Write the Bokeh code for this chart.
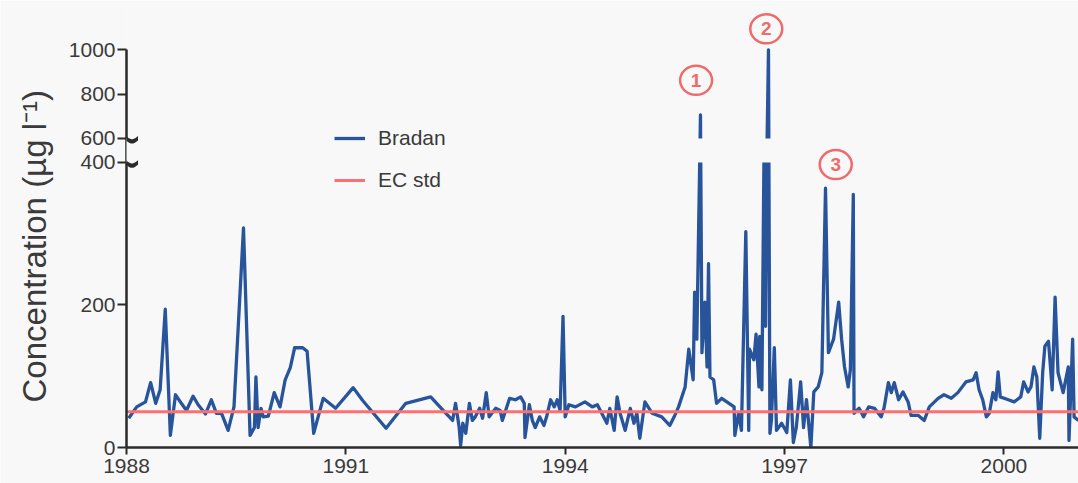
import numpy as np
from bokeh.plotting import figure
from bokeh.models import (ColumnDataSource, Range1d, FixedTicker, CustomJSTransform,
                          CustomJSTickFormatter, Legend, LegendItem, PolyAnnotation, Title)
from bokeh.transform import transform
from bokeh.core.properties import value
from bokeh.embed import file_html
from bokeh.resources import INLINE

# ---- data -------------------------------------------------------------
YEARS = [
    1988.03, 1988.14, 1988.26, 1988.33, 1988.40, 1988.46, 1988.53, 1988.60, 1988.67, 1988.75,
    1988.82, 1988.91, 1988.98, 1989.08, 1989.16, 1989.23, 1989.30, 1989.39, 1989.47, 1989.60,
    1989.69, 1989.75, 1989.77, 1989.80, 1989.84, 1989.87, 1989.94, 1990.02, 1990.10, 1990.17,
    1990.24, 1990.30, 1990.41, 1990.47, 1990.56, 1990.69, 1990.86, 1991.10, 1991.23, 1991.55,
    1991.82, 1992.16, 1992.35, 1992.46, 1992.50, 1992.55, 1992.57, 1992.60, 1992.64, 1992.69,
    1992.73, 1992.77, 1992.83, 1992.87, 1992.92, 1992.96, 1993.05, 1993.11, 1993.14, 1993.24,
    1993.32, 1993.39, 1993.44, 1993.45, 1993.51, 1993.55, 1993.59, 1993.65, 1993.71, 1993.75,
    1993.80, 1993.85, 1993.89, 1993.93, 1993.97, 1994.00, 1994.05, 1994.14, 1994.27, 1994.37,
    1994.44, 1994.48, 1994.57, 1994.61, 1994.67, 1994.71, 1994.75, 1994.82, 1994.89, 1994.94,
    1994.98, 1995.02, 1995.09, 1995.19, 1995.32, 1995.43, 1995.49, 1995.55, 1995.64, 1995.69,
    1995.75, 1995.77, 1995.80, 1995.85, 1995.87, 1995.91, 1995.94, 1995.96, 1995.98, 1996.03,
    1996.07, 1996.14, 1996.24, 1996.31, 1996.32, 1996.37, 1996.41, 1996.47, 1996.51, 1996.52,
    1996.58, 1996.61, 1996.65, 1996.66, 1996.69, 1996.72, 1996.74, 1996.76, 1996.78, 1996.80,
    1996.82, 1996.86, 1996.89, 1996.96, 1997.03, 1997.08, 1997.12, 1997.16, 1997.22, 1997.26,
    1997.30, 1997.36, 1997.40, 1997.46, 1997.51, 1997.56, 1997.60, 1997.67, 1997.74, 1997.78,
    1997.82, 1997.87, 1997.90, 1997.94, 1997.95, 1998.02, 1998.08, 1998.15, 1998.23, 1998.32,
    1998.36, 1998.42, 1998.46, 1998.50, 1998.56, 1998.62, 1998.69, 1998.73, 1998.83, 1998.91,
    1998.98, 1999.10, 1999.18, 1999.28, 1999.37, 1999.48, 1999.58, 1999.62, 1999.66, 1999.71,
    1999.76, 1999.80, 1999.85, 1999.89, 1999.92, 1999.95, 2000.06, 2000.14, 2000.23, 2000.27,
    2000.33, 2000.37, 2000.41, 2000.45, 2000.49, 2000.53, 2000.56, 2000.61, 2000.66, 2000.70,
    2000.74, 2000.81, 2000.88, 2000.89, 2000.94, 2000.96, 2001.02,
]
BRADAN = [
    41, 57, 64, 91, 62, 81, 194, 17, 74, 62,
    52, 72, 60, 47, 67, 48, 48, 24, 57, 308,
    17, 28, 99, 28, 55, 43, 44, 77, 57, 95,
    112, 140, 140, 135, 20, 69, 55, 84, 66, 27,
    62, 71, 50, 38, 62, 28, 3, 34, 20, 62,
    38, 43, 55, 41, 77, 43, 55, 52, 38, 69,
    67, 71, 62, 14, 60, 38, 28, 43, 31, 45,
    67, 57, 67, 52, 184, 43, 60, 57, 64, 57,
    60, 52, 34, 55, 24, 71, 48, 24, 55, 34,
    48, 13, 64, 48, 43, 31, 43, 57, 85, 138,
    95, 218, 152, 705, 133, 204, 113, 258, 99, 95,
    62, 69, 62, 57, 17, 48, 24, 303, 24, 138,
    123, 159, 85, 156, 81, 560, 170, 540, 1000, 20,
    38, 140, 24, 34, 21, 95, 7, 28, 92, 28,
    67, 0, 78, 85, 105, 364, 133, 152, 204, 152,
    113, 85, 109, 355, 48, 55, 43, 57, 55, 43,
    55, 91, 77, 91, 67, 78, 64, 45, 45, 38,
    57, 69, 74, 69, 77, 92, 95, 105, 81, 67,
    43, 48, 77, 67, 106, 71, 67, 64, 71, 92,
    78, 85, 113, 99, 13, 105, 142, 149, 81, 211,
    105, 77, 113, 10, 152, 43, 38,
]
EC_STD = 50
X_START, X_END = 1988.0, 2001.02
X_TICKS = [1988, 1991, 1994, 1997, 2000]
Y_TICKS = [0, 200, 400, 600, 800, 1000]
BREAK_LO, BREAK_HI = 400, 600
MARK_LABELS = ["1", "2", "3"]
MARK_YEARS = [1995.79, 1996.75, 1997.70]
MARK_VALUES = [862, 1095, 397]
Y_TITLE = "Concentration (\u00b5g l\u207b\u00b9)"

# ---- broken value axis ------------------------------------------------
# up to 400 the scale is linear; 400-600 collapses into a thin gap;
# above 600 the scale is compressed.
GAP = 34.0
UPPER_K = 0.31
PX_PER_UNIT = 0.7125


def to_axis(v):
    if v <= BREAK_LO:
        return v
    if v >= BREAK_HI:
        return BREAK_LO + GAP + (v - BREAK_HI) * UPPER_K
    return BREAK_LO + (v - BREAK_LO) * GAP / (BREAK_HI - BREAK_LO)


JS_MAP = """
function m(v) {
  if (v <= lo) return v;
  if (v >= hi) return lo + gap + (v - hi) * k;
  return lo + (v - lo) * gap / (hi - lo);
}
"""
brk = CustomJSTransform(
    args=dict(lo=BREAK_LO, hi=BREAK_HI, gap=GAP, k=UPPER_K),
    func=JS_MAP + "return m(x);",
    v_func=JS_MAP + "const out = new Float64Array(xs.length);"
                    "for (let i = 0; i < xs.length; i++) out[i] = m(xs[i]);"
                    "return out;",
)
tick_fmt = CustomJSTickFormatter(
    args=dict(lo=BREAK_LO, hi=BREAK_HI, gap=GAP, k=UPPER_K),
    code="""
const v = tick <= lo + 1e-6 ? tick : hi + (tick - lo - gap) / k;
return String(Math.round(v));
""",
)

# ---- styling ----------------------------------------------------------
BG = "#f8f8f8"
AXIS = "#2a2a2a"
TEXT = "#3a3a3a"
BLUE = "#27549a"
RED = "#ff6f6f"
MARK = "#ef6a6a"
FONT = "Liberation Sans"

p = figure(width=1078, height=483, x_range=Range1d(X_START, X_END),
           y_range=Range1d(0, 616), output_backend="svg", toolbar_location=None,
           min_border_left=125, min_border_right=0, min_border_top=8,
           min_border_bottom=36, background_fill_color=BG, border_fill_color=BG,
           outline_line_color=None)
p.grid.visible = False

xa = p.xaxis[0]
xa.ticker = FixedTicker(ticks=X_TICKS)
xa.minor_tick_line_color = None
xa.major_tick_out = 7
xa.major_tick_in = 0
xa.axis_line_width = 2.5
xa.axis_line_color = AXIS
xa.major_tick_line_width = 2
xa.major_tick_line_color = AXIS
xa.major_label_standoff = 4
xa.major_label_text_font = FONT
xa.major_label_text_font_size = "21px"
xa.major_label_text_color = TEXT

ya = p.yaxis[0]
ya.ticker = FixedTicker(ticks=[to_axis(v) for v in Y_TICKS])
ya.formatter = tick_fmt
ya.bounds = (0, to_axis(Y_TICKS[-1]))
ya.minor_tick_line_color = None
ya.major_tick_out = 9
ya.major_tick_in = 0
ya.axis_line_width = 2.5
ya.axis_line_color = AXIS
ya.major_tick_line_width = 2
ya.major_tick_line_color = AXIS
ya.major_label_standoff = 2
ya.major_label_text_font = FONT
ya.major_label_text_font_size = "21px"
ya.major_label_text_color = TEXT

# value-axis title, starting a little above the bottom of the frame
p.add_layout(Title(text=Y_TITLE, align="left", offset=45, standoff=26,
                   text_font=FONT, text_font_size="33px", text_font_style="normal",
                   text_color=TEXT), "left")

# ---- series -----------------------------------------------------------
src = ColumnDataSource(dict(year=YEARS, conc=BRADAN))
brad = p.line("year", transform("conc", brk), source=src, line_color=BLUE,
              line_width=3.3, line_join="round")

# blank band where the value axis is broken
band = ColumnDataSource(dict(lo=[BREAK_LO], hi=[BREAK_HI]))
p.hstrip(y0=transform("lo", brk), y1=transform("hi", brk), source=band,
         fill_color=BG, line_color=None)

std_src = ColumnDataSource(dict(year=[X_START, X_END], conc=[EC_STD, EC_STD]))
ec = p.line("year", transform("conc", brk), source=std_src, line_color=RED,
            line_width=3)

# numbered event markers
msrc = ColumnDataSource(dict(x=MARK_YEARS, y=MARK_VALUES, label=MARK_LABELS))
p.ellipse("x", transform("y", brk), width=32, height=29, width_units="screen",
          height_units="screen", source=msrc, fill_color=None,
          line_color=MARK, line_width=2.5)
p.text("x", transform("y", brk), text="label", source=msrc, text_align="center",
       text_baseline="middle", text_font=value(FONT), text_font_style="bold",
       text_font_size="19px", text_color=MARK)

# ---- axis break: cut the spine and draw the wavy marks ----------------
lo_u, hi_u = to_axis(BREAK_LO), to_axis(BREAK_HI)
p.add_layout(PolyAnnotation(xs=[-20, 16, 16, -20], xs_units="screen",
                            ys=[lo_u, lo_u, hi_u, hi_u], ys_units="data",
                            fill_color=BG, fill_alpha=1.0, line_color=None))
t = np.linspace(-1.0, 1.0, 41)
wave_x = -0.5 + 12 * t
wave_dy = -3.2 * np.sin(np.pi * t)
for base in (lo_u, hi_u):
    top = base + (wave_dy + 2.2) / PX_PER_UNIT
    bot = base + (wave_dy - 2.2) / PX_PER_UNIT
    xs = list(wave_x) + list(wave_x[::-1])
    ys = list(top) + list(bot[::-1])
    p.add_layout(PolyAnnotation(xs=xs, xs_units="screen", ys=ys, ys_units="data",
                                fill_color=AXIS, fill_alpha=1.0, line_color=None))

# ---- legend -----------------------------------------------------------
legend = Legend(items=[LegendItem(label="Bradan", renderers=[brad]),
                       LegendItem(label="EC std", renderers=[ec])],
                location=(208, 255), orientation="vertical", padding=0, margin=0,
                border_line_color=None, background_fill_alpha=0,
                glyph_width=31, glyph_height=20, label_height=20,
                label_standoff=13, spacing=18,
                label_text_font=FONT, label_text_font_size="21px",
                label_text_color=TEXT)
p.add_layout(legend)

open("out.html", "w").write(file_html(p, INLINE))
